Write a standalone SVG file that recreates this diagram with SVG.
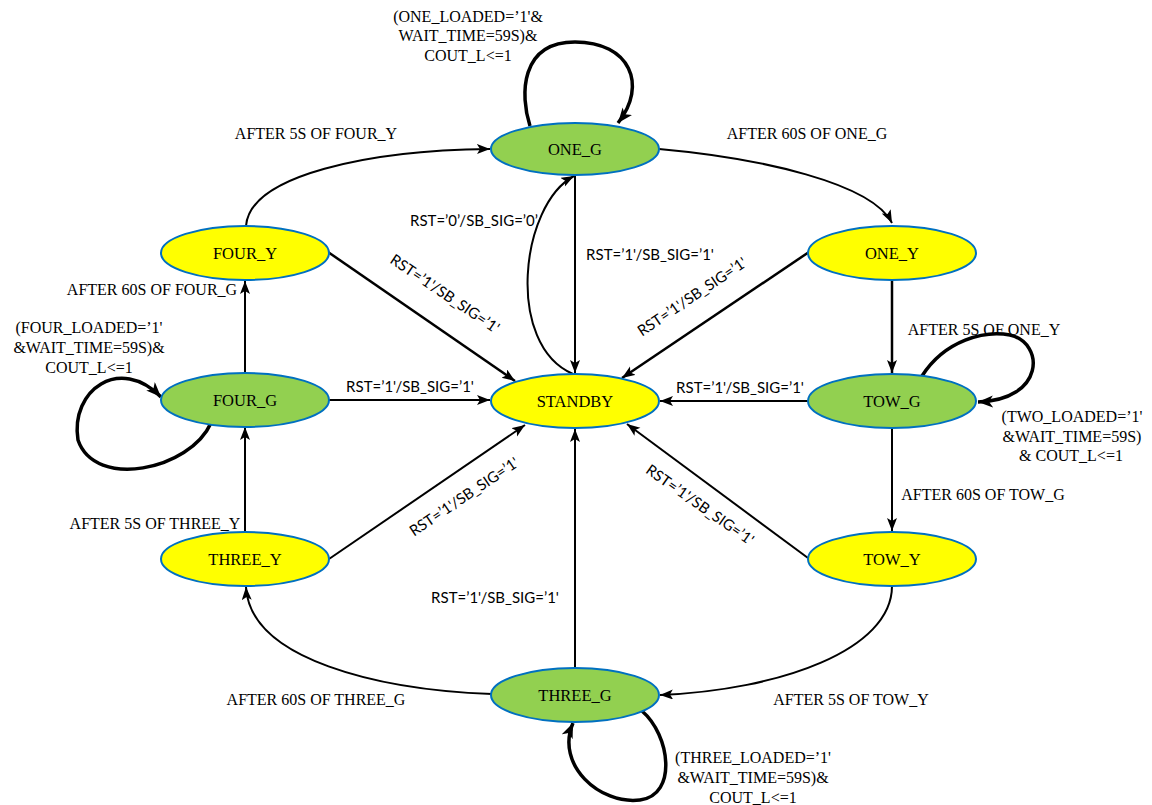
<svg xmlns="http://www.w3.org/2000/svg" width="1152" height="805" viewBox="0 0 1152 805">
<defs>
<style>
.g{fill:#92D050;stroke:#0070C0;stroke-width:2}
.y{fill:#FFFF00;stroke:#0070C0;stroke-width:2}
.nt{font-family:"Liberation Serif","Times New Roman",serif;font-size:16.5px;fill:#000;text-anchor:middle}
.lt{font-family:"Liberation Serif","Times New Roman",serif;font-size:16px;fill:#000;text-anchor:middle}
.st{font-family:Lato,"Liberation Sans",sans-serif;font-size:15px;fill:#000;text-anchor:middle}
.c{fill:none;stroke:#000;stroke-width:2;marker-end:url(#a)}
.d{fill:none;stroke:#000;stroke-width:2.5;marker-end:url(#a)}
.l{fill:none;stroke:#000;stroke-width:3.5;marker-end:url(#b)}
</style>
<marker id="a" markerUnits="userSpaceOnUse" markerWidth="14" markerHeight="12" refX="13" refY="5" orient="auto">
<path d="M0,0 L13,5 L0,10 L3,5 z" fill="#000"/>
</marker>
<marker id="b" markerUnits="userSpaceOnUse" markerWidth="16" markerHeight="14" refX="15" refY="6" orient="auto">
<path d="M0,0 L15,6 L0,12 L4,6 z" fill="#000"/>
</marker>
</defs>
<rect width="1152" height="805" fill="#fff"/>
<g id="connectors">
<path class="c" d="M659,149 C760,158 872,183 892,223"/>
<path class="d" d="M892,281 L892,373"/>
<path class="c" d="M892,429 L892,531"/>
<path class="c" d="M892,586 C892,650 780,690 660,695"/>
<path class="c" d="M492,694 C380,690 250,660 246,587"/>
<path class="c" d="M245,532 L245,427"/>
<path class="c" d="M245,373 L245,281"/>
<path class="c" d="M246,226 C250,175 370,150 490,149"/>
<path class="l" d="M530,126 C520,95 520,42 575,42 C630,42 648,85 618,123"/>
<path class="l" d="M211,423 C190,470 95,490 78,440 C70,390 120,355 161,397"/>
<path class="l" d="M922,376 C945,340 985,330 1010,335 C1045,343 1045,400 978,402"/>
<path class="l" d="M642,711 C670,735 678,795 640,800 C600,805 555,765 573,723"/>
<path class="c" d="M575,175 L575,373"/>
<path class="c" d="M573,374 C505,345 520,205 574,176"/>
<path class="d" d="M328,252 L515,381"/>
<path class="d" d="M809,252 L622,378"/>
<path class="c" d="M329,400 L490,400"/>
<path class="c" d="M808,401 L660,401"/>
<path class="c" d="M329,559 L525,425"/>
<path class="c" d="M808,558 L627,424"/>
<path class="c" d="M575,668 L575,429"/>
</g>
<g id="labels">
<text class="lt" x="468" y="22">(ONE_LOADED=’1'&amp;</text>
<text class="lt" x="468" y="41">WAIT_TIME=59S)&amp;</text>
<text class="lt" x="468" y="61">COUT_L&lt;=1</text>
<text class="lt" x="316" y="139">AFTER 5S OF FOUR_Y</text>
<text class="lt" x="807" y="139">AFTER 60S OF ONE_G</text>
<text class="lt" x="152" y="295">AFTER 60S OF FOUR_G</text>
<text class="lt" x="89" y="333">(FOUR_LOADED=’1'</text>
<text class="lt" x="89" y="353">&amp;WAIT_TIME=59S)&amp;</text>
<text class="lt" x="89" y="373">COUT_L&lt;=1</text>
<text class="lt" x="984" y="335">AFTER 5S OF ONE_Y</text>
<text class="lt" x="1072" y="422">(TWO_LOADED=’1'</text>
<text class="lt" x="1072" y="442">&amp;WAIT_TIME=59S)</text>
<text class="lt" x="1071" y="461">&amp; COUT_L&lt;=1</text>
<text class="lt" x="983" y="500">AFTER 60S OF TOW_G</text>
<text class="lt" x="155" y="529">AFTER 5S OF THREE_Y</text>
<text class="lt" x="316" y="705">AFTER 60S OF THREE_G</text>
<text class="lt" x="851" y="705">AFTER 5S OF TOW_Y</text>
<text class="lt" x="753" y="763">(THREE_LOADED=’1'</text>
<text class="lt" x="753" y="783">&amp;WAIT_TIME=59S)&amp;</text>
<text class="lt" x="753" y="803">COUT_L&lt;=1</text>
<text class="st" x="474" y="226">RST=’0’/SB_SIG=’0’</text>
<text class="st" x="650" y="260">RST=’1'/SB_SIG=’1'</text>
<text class="st" transform="translate(442,298) rotate(34)">RST=’1'/SB_SIG=’1'</text>
<text class="st" transform="translate(695,301) rotate(-34)">RST=’1'/SB_SIG=’1'</text>
<text class="st" x="410" y="392">RST=’1'/SB_SIG=’1'</text>
<text class="st" x="740" y="393">RST=’1'/SB_SIG=’1'</text>
<text class="st" transform="translate(467,501) rotate(-34)">RST=’1'/SB_SIG=’1'</text>
<text class="st" transform="translate(697,509) rotate(35)">RST=’1'/SB_SIG=’1'</text>
<text class="st" x="495" y="603">RST=’1'/SB_SIG=’1'</text>
</g>
<g id="ONE_G"><ellipse class="g" cx="575" cy="149" rx="84" ry="26"/><text class="nt" x="575" y="155">ONE_G</text></g>
<g id="ONE_Y"><ellipse class="y" cx="892" cy="253" rx="84" ry="27"/><text class="nt" x="892" y="259">ONE_Y</text></g>
<g id="TOW_G"><ellipse class="g" cx="892" cy="401" rx="84" ry="27"/><text class="nt" x="892" y="407">TOW_G</text></g>
<g id="TOW_Y"><ellipse class="y" cx="892" cy="559" rx="84" ry="27"/><text class="nt" x="892" y="565">TOW_Y</text></g>
<g id="THREE_G"><ellipse class="g" cx="575" cy="695" rx="84" ry="27"/><text class="nt" x="575" y="701">THREE_G</text></g>
<g id="THREE_Y"><ellipse class="y" cx="245" cy="559" rx="84" ry="27"/><text class="nt" x="245" y="565">THREE_Y</text></g>
<g id="FOUR_G"><ellipse class="g" cx="245" cy="400" rx="84" ry="27"/><text class="nt" x="245" y="406">FOUR_G</text></g>
<g id="FOUR_Y"><ellipse class="y" cx="245" cy="253" rx="84" ry="27"/><text class="nt" x="245" y="259">FOUR_Y</text></g>
<g id="STANDBY"><ellipse class="y" cx="575" cy="401" rx="84" ry="27"/><text class="nt" x="575" y="407">STANDBY</text></g>
</svg>
